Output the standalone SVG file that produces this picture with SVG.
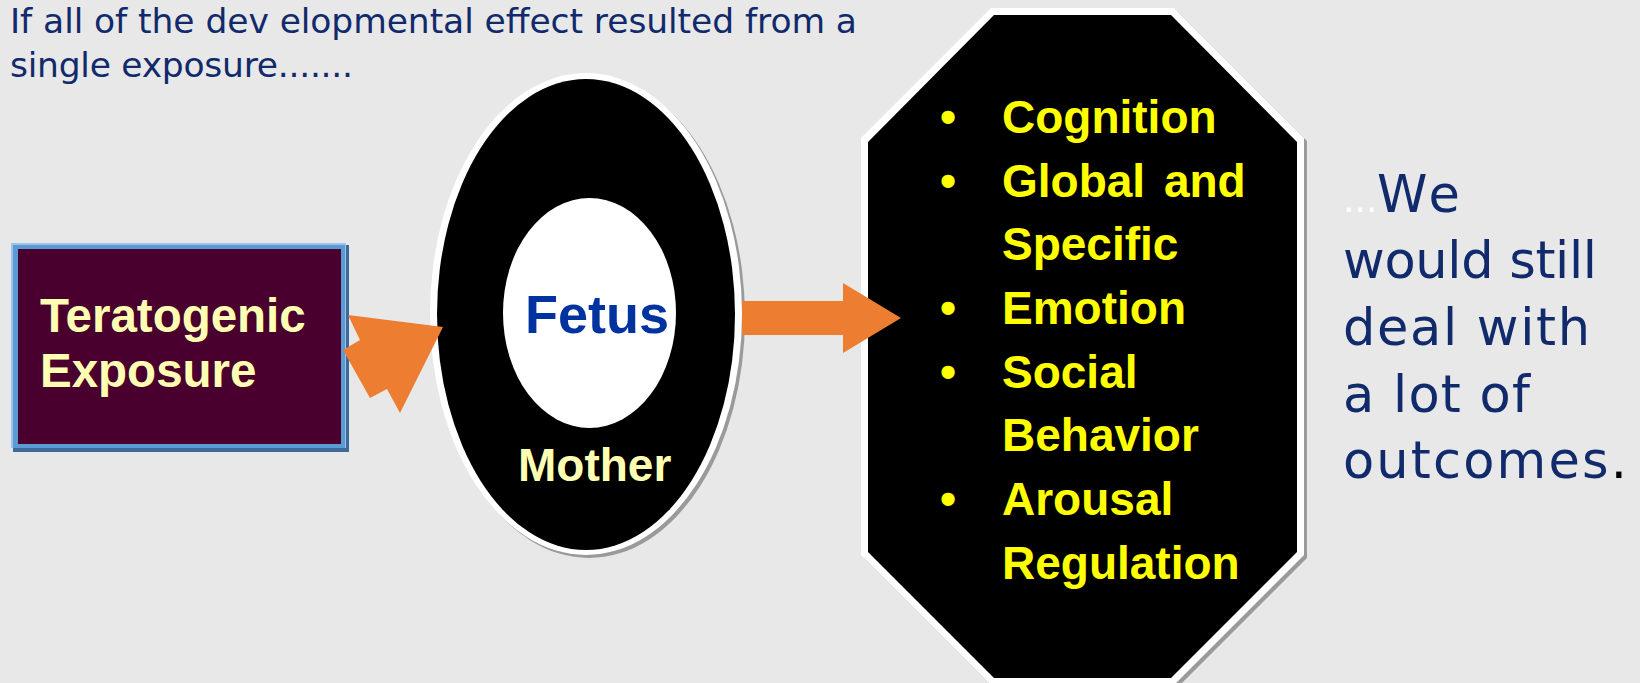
<svg xmlns="http://www.w3.org/2000/svg" width="1640" height="683" viewBox="0 0 1640 683">
<style>
.cg{font-family:"DejaVu Sans","Liberation Sans",sans-serif;fill:#112a6b}
.b{font-family:"Liberation Sans",Arial,sans-serif;font-weight:bold}
.pale{fill:#ffffb3}
.yel{fill:#ffff00}
.arrow{fill:#ed7d31}
</style>
<rect x="0" y="0" width="1640" height="683" fill="#e8e8e8"/>
<g id="title">
<text class="cg" x="10" y="33" font-size="34.5" textLength="847">If all of the dev elopmental effect resulted from a</text>
<text class="cg" x="10" y="77" font-size="34.5" textLength="343">single exposure.......</text>
</g>
<g id="exposure">
<rect x="13" y="245" width="336" height="207" fill="#3d6a99"/>
<rect x="11" y="243" width="335" height="205" fill="#9dc3ea"/>
<rect x="13" y="245" width="332" height="203" fill="#5b9bd5"/>
<rect x="18" y="249" width="323" height="195" fill="#4a002e"/>
<text class="b pale" x="40" y="332" font-size="47.5">Teratogenic</text>
<text class="b pale" x="40" y="387" font-size="47.5">Exposure</text>
</g>
<g id="mother">
<ellipse cx="589" cy="317" rx="156" ry="241" fill="#9a9a9a"/>
<ellipse cx="586" cy="314" rx="156" ry="241" fill="#ffffff"/>
<ellipse cx="586" cy="314.5" rx="149" ry="235.5" fill="#000000"/>
<text class="b pale" x="518" y="481" font-size="46">Mother</text>
</g>
<g id="fetus">
<ellipse cx="589.5" cy="313" rx="86.5" ry="115" fill="#ffffff"/>
<text class="b" x="525" y="333" font-size="54" fill="#0033a0">Fetus</text>
</g>
<g id="outcomes">
<polygon points="994,11 1177,11 1307,141 1307,558 1177,688 994,688 864,558 864,141" fill="#9a9a9a"/>
<polygon points="991,8 1174,8 1304,138 1304,555 1174,685 991,685 861,555 861,138" fill="#ffffff"/>
<polygon points="994,15 1171,15 1297,142 1297,552 1171,678 994,678 868,552 868,142" fill="#000000"/>
<g class="b yel" font-size="46">
<text x="948" y="133" text-anchor="middle">•</text>
<text x="1002" y="133">Cognition</text>
<text x="948" y="197" text-anchor="middle">•</text>
<text x="1002" y="197" word-spacing="6">Global and</text>
<text x="1002" y="260">Specific</text>
<text x="948" y="324" text-anchor="middle">•</text>
<text x="1002" y="324">Emotion</text>
<text x="948" y="388" text-anchor="middle">•</text>
<text x="1002" y="388">Social</text>
<text x="1002" y="451">Behavior</text>
<text x="948" y="515" text-anchor="middle">•</text>
<text x="1002" y="515">Arousal</text>
<text x="1002" y="579">Regulation</text>
</g>
</g>
<g id="note">
<text class="cg" x="1343" y="212" font-size="36" style="fill:#ffffff">...</text>
<text class="cg" x="1377" y="212" font-size="51" textLength="83">We</text>
<text class="cg" x="1343" y="278" font-size="51" textLength="254">would still</text>
<text class="cg" x="1343" y="345" font-size="51" textLength="247">deal with</text>
<text class="cg" x="1343" y="412" font-size="51" textLength="187">a lot of</text>
<text class="cg" x="1343" y="478" font-size="51" textLength="284">outcomes<tspan style="fill:#000000">.</tspan></text>
</g>
<g id="connectors">
<polygon class="arrow" points="348,315 443,327 400,413 387,389 370,398 343,350 360,340"/>
<polygon class="arrow" points="742,301 843,301 843,283 901,318 843,353 843,335 742,335"/>
</g>
</svg>
